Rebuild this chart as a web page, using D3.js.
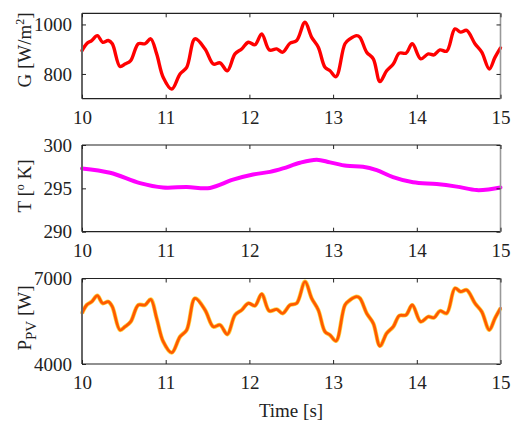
<!DOCTYPE html>
<html><head><meta charset="utf-8">
<script src="https://cdn.jsdelivr.net/npm/d3@7"></script>
<style>body{margin:0;background:#fff}svg{display:block}text{font-family:"Liberation Serif","Times New Roman",serif;fill:#222}</style>
</head><body>
<svg id="c" width="511" height="423"></svg>
<script>
// ---- data ----
const timeG = [10.00,10.056,10.116,10.183,10.247,10.314,10.362,10.454,10.514,10.582,10.673,10.753,10.821,10.892,10.971,11.072,11.171,11.251,11.350,11.470,11.569,11.649,11.736,11.828,11.908,11.987,12.067,12.147,12.238,12.326,12.398,12.485,12.565,12.664,12.744,12.823,12.903,12.963,13.035,13.142,13.202,13.282,13.321,13.401,13.480,13.560,13.640,13.719,13.791,13.871,13.946,14.047,14.137,14.205,14.277,14.357,14.456,14.524,14.596,14.695,14.776,14.866,14.934,15.00];
const irradiance = [894,922,935,955,928,935,922,830,840,854,922,922,942,881,786,739,800,827,942,901,840,845,813,881,901,928,918,962,897,901,888,924,935,1009,948,908,827,813,789,922,942,955,948,888,861,769,813,840,884,884,922,861,881,877,897,892,982,969,976,922,888,820,867,905];
const power = [5779,6070,6186,6397,6130,6186,6011,5193,5309,5484,6070,6070,6270,5603,4782,4396,4958,5193,6305,5895,5309,5368,5042,5719,5895,6130,6046,6456,5860,5919,5779,6070,6130,6888,6305,5895,5134,5017,4807,6070,6246,6361,6305,5779,5428,4631,5077,5309,5695,5719,6070,5484,5660,5625,5860,5779,6656,6537,6596,6130,5836,5193,5603,5954];
const timeT = [10.00,10.335,10.693,10.968,11.251,11.529,11.804,12.043,12.246,12.401,12.604,12.804,12.963,13.162,13.357,13.521,13.716,13.955,14.238,14.477,14.716,14.875,15.00];
const temperature = [297.3,296.8,295.6,295.1,295.15,295.05,296.0,296.6,296.9,297.3,297.95,298.3,298.0,297.6,297.5,297.1,296.3,295.7,295.5,295.2,294.8,294.9,295.1];
const xTicks = [10,11,12,13,14,15];
const gTicks = [800,1000];
const tTicks = [290,295,300];
const pTicks = [4000,7000];

// ---- layout ----
const svg = d3.select("#c");
const x = d3.scaleLinear().domain([10,15]).range([82,500.5]);
const FS = 19;

const panels = [
  {top:13.3, bottom:98.7, domain:[700,1045], ticks:gTicks, t:timeG, v:irradiance, color:"#ff0000", w:3.4, label:"G", titleY:50},
  {top:145, bottom:231.7, domain:[290,300], ticks:tTicks, t:timeT, v:temperature, color:"#ff00ff", w:4, label:"T", titleY:186},
  {top:278.5, bottom:364, domain:[4000,7000], ticks:pTicks, t:timeG, v:power, color:"#ff5a00", w:2.8, label:"P", titleY:318}
];

panels.forEach((p,i)=>{
  const y = d3.scaleLinear().domain(p.domain).range([p.bottom,p.top]);
  const g = svg.append("g");
  // line
  const line = d3.line().x((d,j)=>x(p.t[j])).y(d=>y(d)).curve(d3.curveCatmullRom.alpha(0.5));
  if(i===2){
    g.append("path").attr("d",line(p.v)).attr("fill","none").attr("stroke","#ffc400").attr("stroke-width",4.2).attr("stroke-linejoin","round").attr("opacity",0.75);
  }
  g.append("path").attr("d",line(p.v)).attr("fill","none").attr("stroke",p.color).attr("stroke-width",p.w).attr("stroke-linejoin","round").attr("stroke-linecap","round");
  // frame
  g.append("line").attr("x1",x(10)).attr("x2",x(15)).attr("y1",p.top).attr("y2",p.top).attr("stroke","#222").attr("stroke-width",1.2);
  g.append("line").attr("x1",x(10)).attr("x2",x(15)).attr("y1",p.bottom).attr("y2",p.bottom).attr("stroke","#222").attr("stroke-width",1.2);
  g.append("line").attr("x1",x(10)).attr("x2",x(10)).attr("y1",p.top).attr("y2",p.bottom).attr("stroke","#666").attr("stroke-width",2);
  g.append("line").attr("x1",x(15)).attr("x2",x(15)).attr("y1",p.top).attr("y2",p.bottom).attr("stroke","#999").attr("stroke-width",1.6);
  // x ticks (inward, top & bottom)
  const xb = d3.axisBottom(x).tickValues(xTicks).tickSizeInner(-4).tickSizeOuter(0).tickFormat(d3.format("d")).tickPadding(12);
  const ax = g.append("g").attr("transform",`translate(0,${p.bottom})`).call(xb);
  ax.select(".domain").remove();
  ax.selectAll("line").attr("stroke","#222");
  ax.selectAll("text").attr("font-size",FS).attr("fill","#222").attr("dy","0.71em");
  const xt = d3.axisTop(x).tickValues(xTicks).tickSizeInner(-4).tickSizeOuter(0).tickFormat("");
  const axt = g.append("g").attr("transform",`translate(0,${p.top})`).call(xt);
  axt.select(".domain").remove();
  axt.selectAll("line").attr("stroke","#222");
  // y ticks
  const yl = d3.axisLeft(y).tickValues(p.ticks).tickSizeInner(-4).tickSizeOuter(0).tickFormat(d3.format("d")).tickPadding(10);
  const ay = g.append("g").attr("transform",`translate(${x(10)},0)`).call(yl);
  ay.select(".domain").remove();
  ay.selectAll("line").attr("stroke","#222");
  ay.selectAll("text").attr("font-size",FS).attr("fill","#222");
  const yr = d3.axisRight(y).tickValues(p.ticks).tickSizeInner(-4).tickSizeOuter(0).tickFormat("");
  const ayr = g.append("g").attr("transform",`translate(${x(15)},0)`).call(yr);
  ayr.select(".domain").remove();
  ayr.selectAll("line").attr("stroke","#222");
  // y title
  const tt = svg.append("text").attr("transform",`translate(31,${p.titleY}) rotate(-90)`).attr("text-anchor","middle").attr("font-size",FS);
  if(i===0){
    tt.append("tspan").text("G [W/m");
    tt.append("tspan").attr("font-size",12).attr("baseline-shift","55%").text("2");
    tt.append("tspan").text("]");
  } else if(i===1){
    tt.append("tspan").text("T [");
    tt.append("tspan").attr("font-size",12).attr("baseline-shift","55%").text("o");
    tt.append("tspan").text(" K]");
  } else {
    tt.append("tspan").text("P");
    tt.append("tspan").attr("font-size",15).attr("baseline-shift","-30%").text("PV");
    tt.append("tspan").text(" [W]");
  }
});

svg.append("text").attr("x",291).attr("y",417).attr("text-anchor","middle").attr("font-size",FS).text("Time [s]");
</script>
</body></html>
